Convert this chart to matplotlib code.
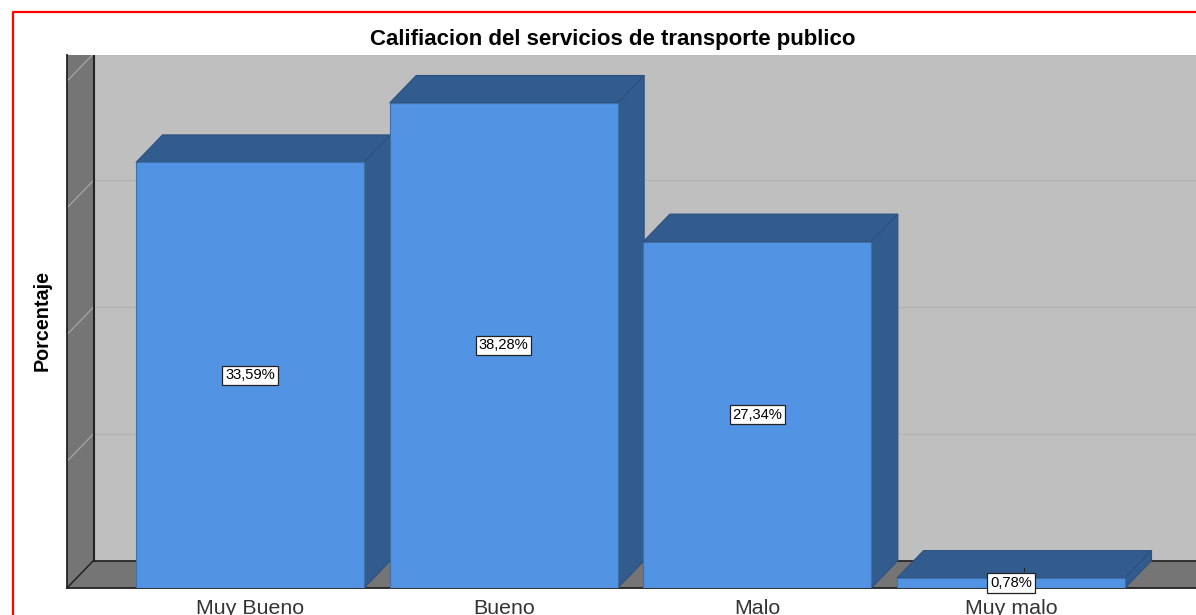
import matplotlib
matplotlib.use("Agg")
from matplotlib import pyplot as plt
from matplotlib.patches import Polygon
from matplotlib.lines import Line2D

plt.rcParams['font.family'] = ['Liberation Sans', 'DejaVu Sans']

categorias = ['Muy Bueno', 'Bueno', 'Malo', 'Muy malo']
porcentajes = [33.59, 38.28, 27.34, 0.78]
etiquetas = ['33,59%', '38,28%', '27,34%', '0,78%']
rejilla = [10, 20, 30, 40]

W, H = 1196, 615
fig = plt.figure(figsize=(W / 100, H / 100), dpi=100, facecolor='white')

# plot area in pixels of the picture
left, right, top, bottom = 67, 1196, 55, 588
ax = fig.add_axes([left / W, 1 - bottom / H, (right - left) / W, (bottom - top) / H])

# scales: 253.67 px per category, 12.67 px per percent
px_cat = 253.67
px_pct = 12.67
ax.set_xlim((left - 250) / px_cat, (right - 250) / px_cat)
ax.set_ylim(0, (bottom - top) / px_pct)
x0, x1 = ax.get_xlim()
y0, y1 = ax.get_ylim()

# depth of the fake 3D, in data units
dx = 26.5 / px_cat
dy = 27.5 / px_pct
ancho = 228 / px_cat

color_pared = '#757575'
color_fondo = '#BFBFBF'
color_barra = '#5294E3'
color_lado = '#335C8E'
color_borde = '#3F6FA8'

ax.set_facecolor(color_fondo)

# side wall and floor
ax.add_patch(Polygon([(x0, 0), (x0 + dx, dy), (x0 + dx, y1 + 1), (x0, y1 + 1)],
                     facecolor=color_pared, edgecolor='none', zorder=1))
ax.add_patch(Polygon([(x0, 0), (x0 + dx, dy), (x1 + 1, dy), (x1 + 1, 0)],
                     facecolor=color_pared, edgecolor='none', zorder=1))

# grid lines, on the back and on the wall
for g in rejilla:
    ax.plot([x0 + dx, x1], [g + dy, g + dy], color='#B3B3B3', lw=0.9, zorder=1.5)
    ax.plot([x0, x0 + dx], [g, g + dy], color='#A6A6A6', lw=0.9, zorder=1.5)

# corner lines
ax.plot([x0 + dx, x0 + dx], [dy, y1], color='#222222', lw=1.5, zorder=2)
ax.plot([x0 + dx, x1], [dy, dy], color='#222222', lw=1.2, zorder=2)
ax.plot([x0, x0 + dx], [0, dy], color='#222222', lw=1.1, zorder=2)
ax.plot([x0, x0], [0, y1], color='#222222', lw=1.3, zorder=2, clip_on=False)
ax.plot([x0, x1], [0, 0], color='#222222', lw=1.3, zorder=2, clip_on=False)

# bars, left to right so each one covers the side of the previous
for i, v in enumerate(porcentajes):
    z = 3 + i
    a = i - ancho / 2
    b = i + ancho / 2
    ax.add_patch(Polygon([(a, v), (a + dx, v + dy), (b + dx, v + dy), (b, v)],
                         facecolor=color_lado, edgecolor='#2C5080', lw=0.8, zorder=z))
    ax.add_patch(Polygon([(b, 0), (b + dx, dy), (b + dx, v + dy), (b, v)],
                         facecolor=color_lado, edgecolor='#2C5080', lw=0.8, zorder=z))
    ax.bar(i, v, width=ancho, color=color_barra, edgecolor=color_borde, lw=0.8, zorder=z)

# small stub above the last label
ax.plot([3 + 13 / px_cat] * 2, [porcentajes[3] + 0.55, porcentajes[3] + 0.8],
        color='#222222', lw=0.8, zorder=8)

for i, v in enumerate(porcentajes):
    ax.text(i, v / 2, etiquetas[i], ha='center', va='center', fontsize=10.6, color='black',
            zorder=10, clip_on=False,
            bbox=dict(boxstyle='square,pad=0.18', facecolor='white', edgecolor='#222222', lw=0.9))

for s in ax.spines.values():
    s.set_visible(False)
ax.set_yticks([])
ax.set_xticks(range(len(categorias)))
ax.set_xticklabels(categorias, fontsize=15.4, color='#333333')
ax.tick_params(axis='x', length=0, pad=8)

fig.text(612.5 / W, 1 - 40 / H, 'Califiacion del servicios de transporte publico',
         ha='center', va='center', fontsize=16, fontweight='bold', color='black')
fig.text(42.5 / W, 1 - 320 / H, 'Porcentaje', ha='center', va='center', rotation=90,
         fontsize=14.2, fontweight='bold', color='black')

# red frame, open on the right and at the bottom
fig.add_artist(Line2D([13 / W, 13 / W, 1], [0, 1 - 11.5 / H, 1 - 11.5 / H],
                      color='#FF0000', lw=1.6))

fig.savefig('out.png', dpi=100, facecolor='white')
